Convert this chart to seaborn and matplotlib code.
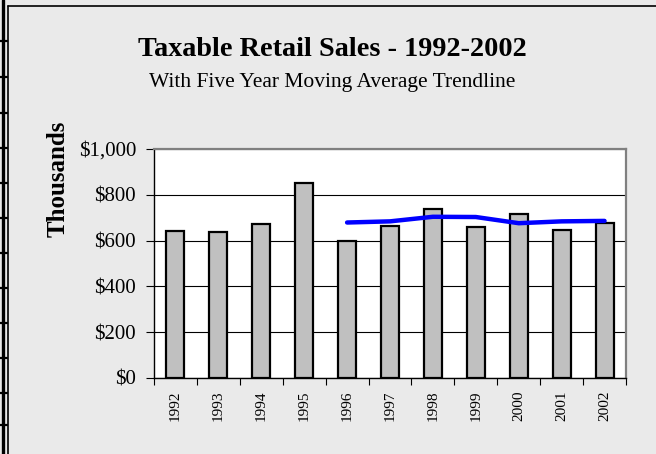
import matplotlib
matplotlib.use("Agg")
import matplotlib.pyplot as plt
from matplotlib.lines import Line2D
from matplotlib.ticker import FuncFormatter, FixedLocator
import pandas as pd
import seaborn as sns

# Datos (miles de dólares)
years = ["1992", "1993", "1994", "1995", "1996", "1997", "1998", "1999", "2000", "2001", "2002"]
sales = [642, 638, 672, 853, 598, 665, 738, 661, 717, 646, 675]
trend_years = ["1996", "1997", "1998", "1999", "2000", "2001", "2002"]
trend_values = [679, 684, 704, 703, 676, 684, 686]

sns.set_theme(style="white")
plt.rcParams["font.family"] = ["Liberation Serif", "DejaVu Serif"]
plt.rcParams["text.color"] = "black"
plt.rcParams["axes.labelcolor"] = "black"
plt.rcParams["xtick.color"] = "black"
plt.rcParams["ytick.color"] = "black"

bg = "#EAEAEA"
fig = plt.figure(figsize=(6.56, 4.54), dpi=100, facecolor=bg)
ax = fig.add_axes([154 / 656, 1 - 378 / 454, 472 / 656, 229 / 454])
ax.set_facecolor("white")

df = pd.DataFrame({"year": years, "sales": sales})
sns.barplot(data=df, x="year", y="sales", order=years, color="#C0C0C0",
            edgecolor="black", linewidth=1.6, width=0.42, saturation=1, ax=ax, zorder=3)

pos = [years.index(y) for y in trend_years]
sns.lineplot(x=pos, y=trend_values, color="#0000FF", linewidth=3.2, ax=ax, zorder=4)

ax.set_xlim(-0.5, len(years) - 0.5)
ax.set_ylim(0, 1000)
ax.set_yticks([0, 200, 400, 600, 800, 1000])
ax.yaxis.set_major_formatter(FuncFormatter(lambda v, p: f"${v:,.0f}"))
ax.grid(axis="y", color="black", linewidth=0.8, zorder=1)
ax.set_axisbelow(True)

# ticks entre categorías, etiquetas en el centro
ax.xaxis.set_major_locator(FixedLocator([i - 0.5 for i in range(len(years) + 1)]))
ax.xaxis.set_minor_locator(FixedLocator(list(range(len(years)))))
ax.set_xticklabels([], minor=False)
ax.set_xticklabels(years, minor=True, rotation=90, fontsize=11)
ax.tick_params(axis="x", which="major", direction="out", length=5, width=0.8, color="black", bottom=True)
ax.tick_params(axis="x", which="minor", length=0, pad=9, bottom=True)
ax.tick_params(axis="y", direction="out", length=6, width=0.8, color="black", left=True, labelsize=15, pad=7)
ax.set_xlabel("")
ax.set_ylabel("Thousands", fontsize=18, fontweight="bold")
ax.yaxis.set_label_coords(-0.178, 0.869)

for side in ["left", "bottom"]:
    ax.spines[side].set_color("black")
    ax.spines[side].set_linewidth(1.0)
for side in ["top", "right"]:
    ax.spines[side].set_color("#808080")
    ax.spines[side].set_linewidth(1.6)

fig.text(332 / 656, 1 - 50 / 454, "Taxable Retail Sales - 1992-2002",
         ha="center", va="center", fontsize=20.3, fontweight="bold")
fig.text(332 / 656, 1 - 82 / 454, "With Five Year Moving Average Trendline",
         ha="center", va="center", fontsize=15.5)

# marco de la página
W, H = 656, 454
fig.add_artist(Line2D([8 / W, 8 / W], [0, 1 - 6 / H], color="black", linewidth=1.2, transform=fig.transFigure))
fig.add_artist(Line2D([8 / W, 1], [1 - 6 / H, 1 - 6 / H], color="black", linewidth=1.2, transform=fig.transFigure))
fig.add_artist(Line2D([3 / W, 3 / W], [0, 1], color="black", linewidth=2.4, transform=fig.transFigure))
for yp in [41, 77, 113, 148, 183, 218, 253, 288, 323, 358, 393, 425]:
    fig.add_artist(Line2D([0, 7 / W], [1 - yp / H, 1 - yp / H], color="black", linewidth=1.6,
                          transform=fig.transFigure))

fig.savefig("out.png", dpi=100, facecolor=bg)
